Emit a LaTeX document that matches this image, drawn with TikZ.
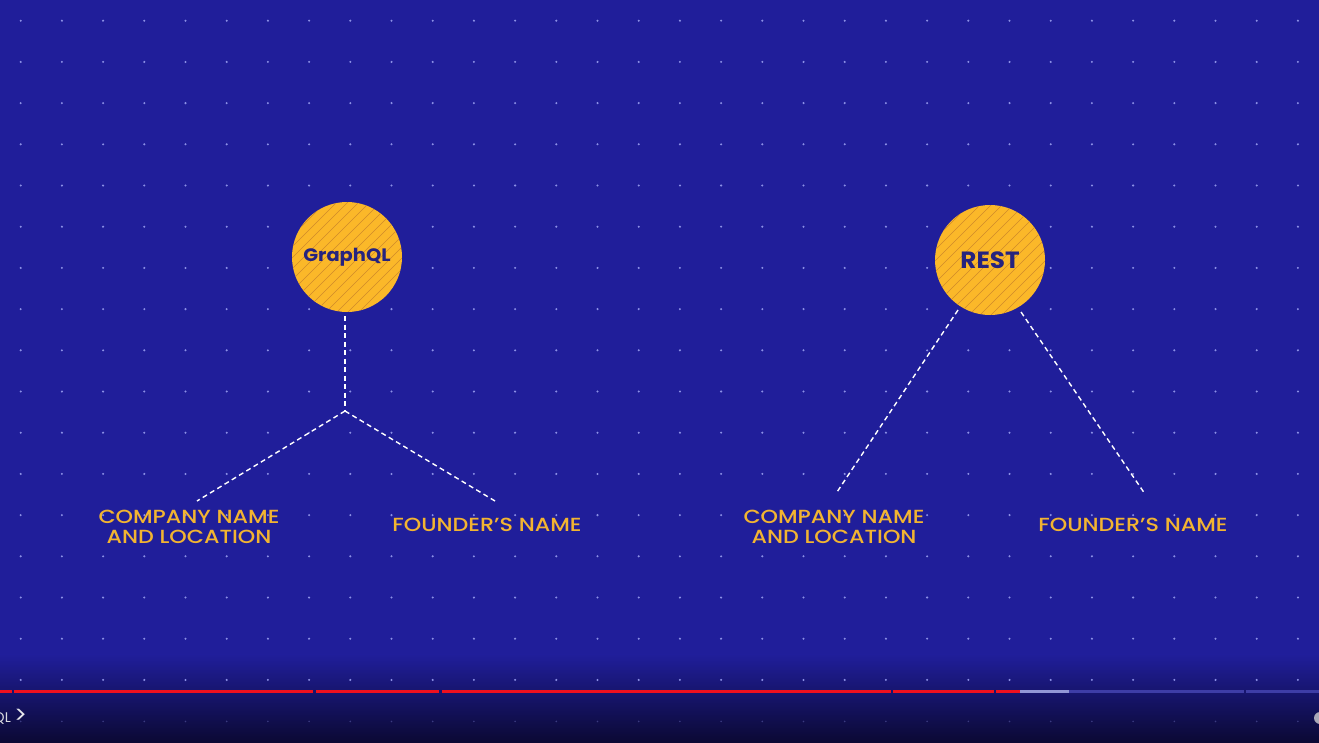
\documentclass[tikz,border=0pt]{standalone}
\usepackage{fontspec}
\newfontfamily\pop{Poppins}
\newfontfamily\popm{Poppins Medium}
\definecolor{bg}{HTML}{201E9A}
\definecolor{bgdark}{HTML}{0B0934}
\definecolor{gold}{HTML}{FBB829}
\definecolor{hatch}{HTML}{D08A2A}
\definecolor{navy}{HTML}{26237F}
\definecolor{lab}{HTML}{F2B431}
\definecolor{dotc}{HTML}{8C90E6}
\definecolor{barred}{HTML}{F0101E}
\definecolor{barlight}{HTML}{9297D6}
\definecolor{bargrey}{HTML}{3E3DA6}
\newcommand{\wide}[1]{\scalebox{1.17}[1]{#1}}
\tikzset{
  apicircle/.style={circle, minimum size=110pt, inner sep=0pt, fill=gold, text=navy,
    path picture={
      \foreach \k in {-120,-109,...,120}{
        \draw[hatch, line width=0.45pt]
          ([xshift=\k pt-70pt, yshift=-70pt]path picture bounding box.center) --
          ([xshift=\k pt+70pt, yshift=70pt]path picture bounding box.center);
      }}},
  labeltext/.style={text=lab, font=\popm\fontsize{19}{20.5}\selectfont, align=center, inner sep=0pt},
  conn/.style={draw=white, line width=1.4pt, dash pattern=on 5pt off 3.5pt},
  barseg/.style={line width=3pt}
}
\begin{document}
\begin{tikzpicture}[x=1pt,y=-1pt]
\useasboundingbox (0,0) rectangle (1319,742);
% background
\fill[bg] (0,0) rectangle (1319,655);
\shade[top color=bg, bottom color=bgdark] (0,654.5) rectangle (1319,742);
% dot grid
\foreach \i in {0,...,31}{
  \foreach \j in {0,...,16}{
    \fill[dotc] (20.7+41.2*\i, 20.7+41.2*\j) circle (1.15pt);
  }
  \fill[dotc, opacity=0.35] (20.7+41.2*\i, 721.4) circle (0.9pt);
}
% progress bar
\draw[barseg, barred] (0,691.5) -- (12,691.5);
\draw[barseg, barred] (14,691.5) -- (313,691.5);
\draw[barseg, barred] (316,691.5) -- (439,691.5);
\draw[barseg, barred] (442,691.5) -- (891,691.5);
\draw[barseg, barred] (893,691.5) -- (994,691.5);
\draw[barseg, barred] (996,691.5) -- (1020,691.5);
\draw[barseg, barlight] (1020,691.5) -- (1069,691.5);
\draw[barseg, bargrey] (1069,691.5) -- (1244,691.5);
\draw[barseg, bargrey] (1246,691.5) -- (1319,691.5);
\node[anchor=east, text=white!85!bgdark, font=\pop\fontsize{14}{14}\selectfont, inner sep=0pt] (crumb) at (11,718) {QL};
\node[anchor=west, text=white!90!bgdark, font=\pop\fontsize{24}{24}\selectfont, inner sep=0pt] (chev) at (14,716) {\textgreater};
\fill[white!65!bgdark] (1320,718) circle (6pt);
% GraphQL side
\node[apicircle, font=\pop\bfseries\fontsize{18}{20}\selectfont] (gql) at (347,257) {\scalebox{1.08}[1]{GraphQL}};
\node[labeltext] (gcomp) at (189,527) {\wide{COMPANY NAME}\\\wide{AND LOCATION}};
\node[labeltext] (gfound) at (487,525) {\wide{FOUNDER’S NAME}};
\coordinate (gtop) at (345,316);
\coordinate (gjoin) at (345,411);
\coordinate (gl) at (197,501);
\coordinate (gr) at (495,501);
\draw[conn] (gtop) -- (gjoin);
\draw[conn] (gjoin) -- (gl);
\draw[conn] (gjoin) -- (gr);
% REST side
\node[apicircle, font=\pop\bfseries\fontsize{23.5}{25}\selectfont] (rest) at (990,260) {\scalebox{1.05}[1]{REST}};
\node[labeltext] (rcomp) at (834,527) {\wide{COMPANY NAME}\\\wide{AND LOCATION}};
\node[labeltext] (rfound) at (1133,525) {\wide{FOUNDER’S NAME}};
\coordinate (rl0) at (958,310);
\coordinate (rl) at (837,492);
\coordinate (rr0) at (1021,312);
\coordinate (rr) at (1145,494);
\draw[conn] (rl0) -- (rl);
\draw[conn] (rr0) -- (rr);
\end{tikzpicture}
\end{document}
